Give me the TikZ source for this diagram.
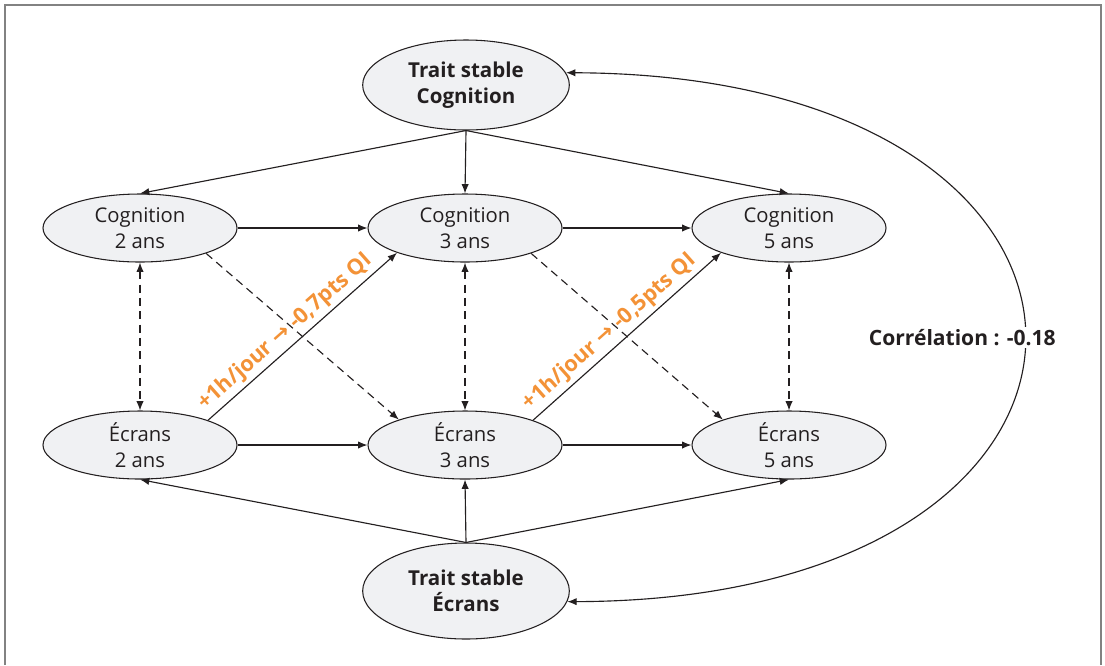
\documentclass[tikz,border=0pt]{standalone}
\usepackage{fontspec}
\setmainfont{Open Sans}
\newfontfamily\arrowfont{DejaVu Sans}
\usetikzlibrary{shapes.geometric,arrows.meta}
\definecolor{ellfill}{RGB}{240,241,243}
\definecolor{lineink}{RGB}{35,31,32}
\definecolor{orangetxt}{RGB}{243,146,55}
\definecolor{framegray}{RGB}{130,130,130}
\begin{document}
\begin{tikzpicture}[x=0.75pt,y=-0.75pt,
  smallnode/.style={ellipse, draw=lineink, fill=ellfill, line width=0.8pt,
    minimum width=145.5pt, minimum height=51pt, inner sep=0pt, align=center,
    font=\fontsize{15.2}{20}\selectfont, text=lineink},
  traitnode/.style={ellipse, draw=lineink, fill=ellfill, line width=0.8pt,
    minimum width=155pt, inner sep=0pt, align=center,
    font=\fontsize{15.4}{19.5}\selectfont\bfseries, text=lineink},
  tip/.tip={Latex[length=7pt,width=5.5pt]},
  conn/.style={lineink, line width=0.85pt, -tip},
  dconn/.style={lineink, line width=0.85pt, tip-tip, dash pattern=on 6pt off 4pt},
  biconn/.style={lineink, line width=0.85pt, tip-tip},
  orangelabel/.style={text=orangetxt, font=\fontsize{16.3}{18}\selectfont\bfseries, inner sep=2.5pt},
  corrlabel/.style={fill=white, text=lineink, font=\fontsize{15.8}{18}\selectfont\bfseries, inner sep=2pt}
]
\useasboundingbox (0,0) rectangle (1105,665);
\draw[framegray, line width=1.5pt] (5,665) -- (5,5) -- (1101,5) -- (1101,665);

\node[traitnode, minimum height=67.5pt] (tc) at (466,85) {Trait stable\\Cognition};
\node[traitnode, minimum height=72pt] (te) at (466,591) {Trait stable\\Écrans};

\node[smallnode] (c2) at (140,228) {Cognition\\2 ans};
\node[smallnode] (c3) at (465,228) {Cognition\\3 ans};
\node[smallnode] (c5) at (789,228) {Cognition\\5 ans};
\node[smallnode] (e2) at (140,445) {Écrans\\2 ans};
\node[smallnode] (e3) at (465,445) {Écrans\\3 ans};
\node[smallnode] (e5) at (789,445) {Écrans\\5 ans};

\draw[conn] (tc.south) -- (c2.north);
\draw[conn] (tc.south) -- (c3.north);
\draw[conn] (tc.south) -- (c5.north);
\draw[conn] (te.north) -- (e2.south);
\draw[conn] (te.north) -- (e3.south);
\draw[conn] (te.north) -- (e5.south);

\draw[conn] (c2) -- (c3);
\draw[conn] (c3) -- (c5);
\draw[conn] (e2) -- (e3);
\draw[conn] (e3) -- (e5);

\draw[dconn] (c2.south) -- (e2.north);
\draw[dconn] (c3.south) -- (e3.north);
\draw[dconn] (c5.south) -- (e5.north);

\draw[conn, dash pattern=on 6pt off 4pt] (c2.-21) -- (e3.159);
\draw[conn, dash pattern=on 6pt off 4pt] (c3.-21) -- (e5.159);

\draw[conn] (e2.20) -- node[orangelabel, sloped, above, pos=0.46] {+1h/jour {\arrowfont →} -0,7pts QI} (c3.200);
\draw[conn] (e3.20) -- node[orangelabel, sloped, above, pos=0.46] {+1h/jour {\arrowfont →} -0,5pts QI} (c5.200);

\draw[biconn] (tc.7) .. controls (1176,75) and (1176,600) .. (te.-6)
  node[corrlabel, pos=0.5, xshift=-46pt] {Corrélation : -0.18};
\end{tikzpicture}
\end{document}
